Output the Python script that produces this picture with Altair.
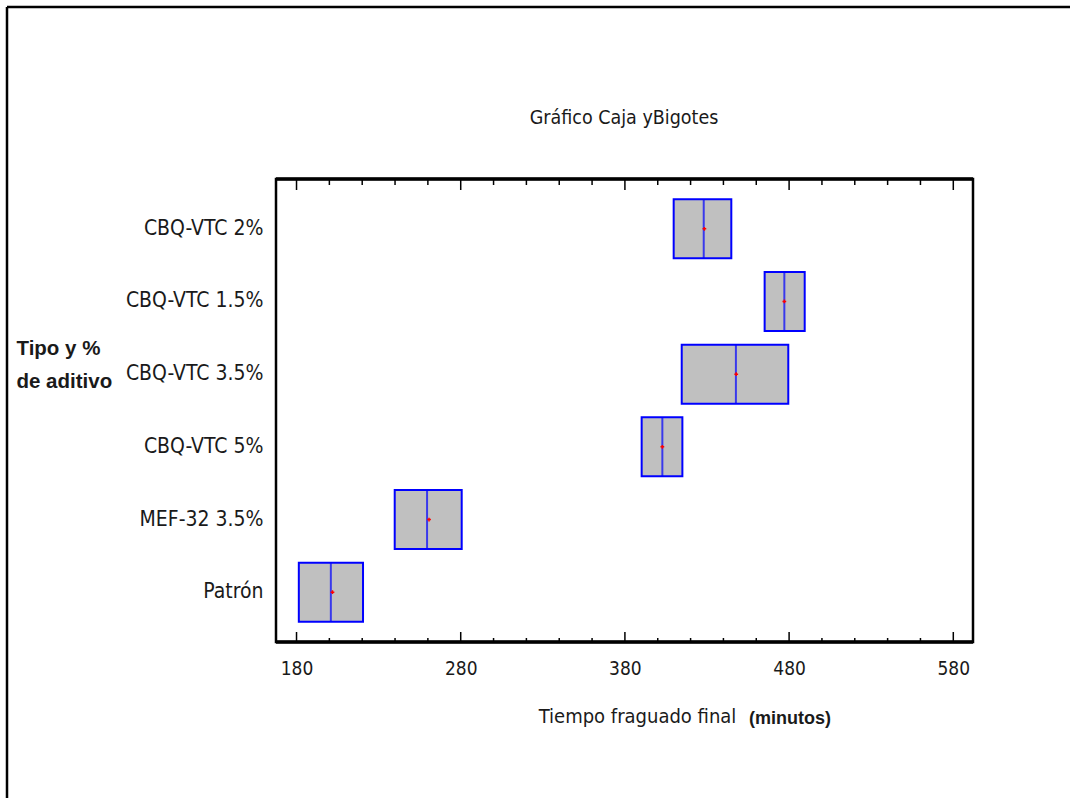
import altair as alt
import pandas as pd

# ---- data ----
categories = ["CBQ-VTC  2%", "CBQ-VTC 1.5%", "CBQ-VTC 3.5%", "CBQ-VTC 5%", "MEF-32 3.5%", "Patrón"]
q1 = [409.7, 465.1, 414.6, 390.2, 239.8, 181.4]
q3 = [444.8, 489.5, 479.5, 415.0, 280.6, 220.5]
median = [428.0, 477.1, 447.6, 402.8, 259.5, 200.9]
mean = [428.4, 477.1, 447.8, 402.8, 260.7, 201.9]
major_ticks = [180, 280, 380, 480, 580]
minor_ticks = [200, 220, 240, 260, 300, 320, 340, 360, 400, 420, 440, 460, 500, 520, 540, 560]
title_text = ["Gráfico Caja yBigotes"]
x_title = "Tiempo fraguado final"
x_unit = ["(minutos)"]
y_title = ["Tipo y %", "de aditivo"]

NARROW = "Liberation Sans Narrow, DejaVu Sans Condensed, Liberation Sans, sans-serif"
SANS = "Liberation Sans, Arial, sans-serif"
W, H = 697, 463

df = pd.DataFrame({"cat": categories, "q1": q1, "q3": q3, "median": median, "mean": mean})
major_df = pd.DataFrame({"v": major_ticks})
minor_df = pd.DataFrame({"v": minor_ticks})
unit_df = pd.DataFrame({"t": x_unit})
title_df = pd.DataFrame({"t": title_text})

xscale = alt.Scale(domain=[167.5, 592], nice=False, zero=False)
yenc = alt.Y(
    "cat:N",
    sort=categories,
    scale=alt.Scale(paddingInner=0.188, paddingOuter=0.279),
    axis=alt.Axis(
        title=y_title,
        titleAngle=0,
        titleAlign="left",
        titleBaseline="alphabetic",
        titleX=-260,
        titleY=175,
        titleFont=SANS,
        titleFontSize=20.5,
        titleFontWeight="bold",
        titleColor="#1a1a1a",
        titleLineHeight=33,
        labelFont=NARROW,
        labelFontSize=21,
        labelColor="#1a1a1a",
        labelPadding=13,
        ticks=False,
        domain=False,
        grid=False,
    ),
)

xaxis = alt.Axis(
    values=major_ticks,
    format="d",
    title=x_title,
    titleFont=NARROW,
    titleFontSize=20,
    titleFontWeight="normal",
    titleColor="#1a1a1a",
    titleX=361,
    titleY=74,
    titleAlign="center",
    titleBaseline="middle",
    labelFont=NARROW,
    labelFontSize=19,
    labelColor="#1a1a1a",
    labelPadding=17,
    ticks=False,
    domain=False,
    grid=False,
)

boxes = alt.Chart(df).mark_bar(
    fill="#c0c0c0", stroke="#0000ff", strokeWidth=2
).encode(
    x=alt.X("q1:Q", scale=xscale, axis=xaxis),
    x2="q3:Q",
    y=yenc,
)

medians = alt.Chart(df).mark_tick(
    color="#0000ff", thickness=2, size=59
).encode(
    x=alt.X("median:Q", scale=xscale),
    y=alt.Y("cat:N", sort=categories),
)

means = alt.Chart(df).mark_point(
    shape="cross", filled=True, color="#ff0000", size=14, opacity=1
).encode(
    x=alt.X("mean:Q", scale=xscale),
    y=alt.Y("cat:N", sort=categories),
)

tick_bot_major = alt.Chart(major_df).mark_rule(color="black", strokeWidth=1.5).encode(
    x=alt.X("v:Q", scale=xscale), y=alt.value(H), y2=alt.value(H - 10)
)
tick_top_major = alt.Chart(major_df).mark_rule(color="black", strokeWidth=1.5).encode(
    x=alt.X("v:Q", scale=xscale), y=alt.value(0), y2=alt.value(11)
)
tick_bot_minor = alt.Chart(minor_df).mark_rule(color="black", strokeWidth=1.5).encode(
    x=alt.X("v:Q", scale=xscale), y=alt.value(H), y2=alt.value(H - 4)
)
tick_top_minor = alt.Chart(minor_df).mark_rule(color="black", strokeWidth=1.5).encode(
    x=alt.X("v:Q", scale=xscale), y=alt.value(0), y2=alt.value(6)
)

frame_top = alt.Chart(unit_df).mark_rule(color="black", strokeWidth=3.5).encode(
    x=alt.value(0), x2=alt.value(W), y=alt.value(0)
)
frame_bot = alt.Chart(unit_df).mark_rule(color="black", strokeWidth=3.5).encode(
    x=alt.value(0), x2=alt.value(W), y=alt.value(H)
)

unit = alt.Chart(unit_df).mark_text(
    font=SANS, fontSize=18, fontWeight="bold", align="center", baseline="middle", color="#1a1a1a"
).encode(x=alt.value(514), y=alt.value(540), text="t:N")

title = alt.Chart(title_df).mark_text(
    font=NARROW, fontSize=19.5, align="center", baseline="middle", color="#1a1a1a"
).encode(x=alt.value(348), y=alt.value(-61), text="t:N")

border_left = alt.Chart(unit_df).mark_rule(color="black", strokeWidth=2.5).encode(
    x=alt.value(-269), y=alt.value(-172), y2=alt.value(640)
)
border_top = alt.Chart(unit_df).mark_rule(color="black", strokeWidth=2.5).encode(
    x=alt.value(-269), x2=alt.value(820), y=alt.value(-172)
)

chart = alt.layer(
    boxes, medians, means,
    tick_bot_major, tick_top_major, tick_bot_minor, tick_top_minor,
    frame_top, frame_bot, unit, title, border_left, border_top,
).properties(
    width=W,
    height=H,
    autosize=alt.AutoSizeParams(type="none"),
    padding={"left": 276, "top": 179, "right": 97, "bottom": 156},
    background="white",
).configure_view(
    stroke="black", strokeWidth=2.5
)

chart.save("out.html", embed_options={"renderer": "svg", "actions": False})
